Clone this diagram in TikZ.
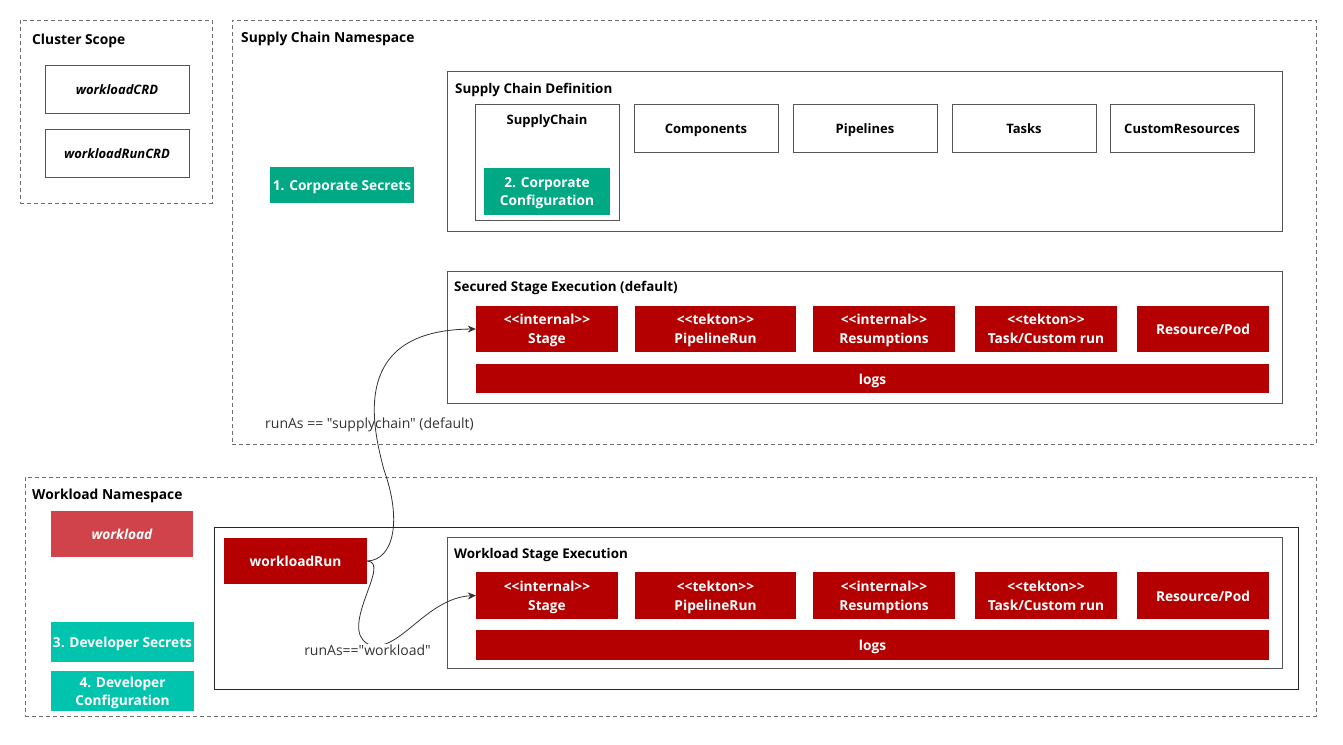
\documentclass[tikz,border=0pt]{standalone}
\usepackage{fontspec}
\setmainfont{Open Sans}[Ligatures=TeXOff]
\usetikzlibrary{positioning, arrows.meta, shadows}
\definecolor{stagered}{RGB}{180,0,0}
\definecolor{wlred}{RGB}{209,67,75}
\definecolor{corpgreen}{RGB}{0,168,132}
\definecolor{devteal}{RGB}{0,196,173}
\definecolor{framegrey}{RGB}{85,85,85}
\definecolor{dashgrey}{RGB}{110,110,110}
\definecolor{linegrey}{RGB}{51,51,51}
\newcommand{\boxfont}{\fontsize{13}{19}\selectfont\bfseries}
\newcommand{\redfont}{\fontsize{13.7}{19}\selectfont\bfseries}
\newcommand{\greenfont}{\fontsize{13.7}{18}\selectfont\bfseries}
\tikzset{
    oneline/.style={text height=14pt, text depth=2.4pt},
    twoline/.style={text height=33.3pt, text depth=3.5pt},
    nsbox/.style={rectangle, draw=dashgrey, dash pattern=on 4pt off 3pt, line width=0.8pt, inner sep=0pt},
    grpbox/.style={rectangle, draw=framegrey, fill=white, line width=0.9pt, inner sep=0pt, drop shadow={shadow xshift=1pt, shadow yshift=-1.2pt, opacity=0.35}},
    nstitle/.style={anchor=west, inner sep=0pt, font=\fontsize{13.8}{19}\selectfont\bfseries},
    grptitle/.style={anchor=west, inner sep=0pt, font=\fontsize{13.4}{19}\selectfont\bfseries},
    whitebox/.style={rectangle, draw=framegrey, fill=white, line width=0.9pt, minimum width=144pt, minimum height=48pt, align=center, font=\boxfont, oneline, drop shadow={shadow xshift=1pt, shadow yshift=-1.2pt, opacity=0.35}},
    redbox/.style={rectangle, fill=stagered, text=white, minimum height=46pt, align=center, font=\redfont, oneline, inner sep=1pt},
    corpbox/.style={rectangle, fill=corpgreen, text=white, align=center, font=\greenfont, oneline, inner sep=1pt},
    devbox/.style={rectangle, fill=devteal, text=white, minimum width=143pt, minimum height=40pt, align=center, font=\greenfont, oneline, inner sep=1pt},
    conn/.style={-{Stealth[length=8pt, width=7pt]}, draw=linegrey, line width=0.8pt},
    runlbl/.style={font=\fontsize{14}{16}\selectfont, text=linegrey, inner sep=1pt}
}

\begin{document}
\begin{tikzpicture}[x=1pt, y=-1pt]
    \useasboundingbox (0,0) rectangle (1343,744);
    % namespaces
    \node[nsbox, minimum width=192pt, minimum height=183pt] (cluster) at (116,111.5) {};
    \node[nstitle] (clusterlbl) at (32,41) {Cluster Scope};
    \node[nsbox, minimum width=1084pt, minimum height=424pt] (scns) at (774,232) {};
    \node[nstitle] (scnslbl) at (241,39) {Supply Chain Namespace};
    \node[nsbox, minimum width=1291pt, minimum height=239pt] (wlns) at (670.5,596.5) {};
    \node[nstitle] (wlnslbl) at (32,496) {Workload Namespace};

    % cluster scope
    \node[whitebox, font=\boxfont\itshape] (wlcrd) at (117,89) {workloadCRD};
    \node[whitebox, font=\boxfont\itshape] (wrcrd) at (117,153) {workloadRunCRD};

    % supply chain namespace
    \node[corpbox, minimum width=144pt, minimum height=36pt] (corpsec) at (342,185) {1. Corporate Secrets};
    \node[grpbox, minimum width=835pt, minimum height=160pt] (scdef) at (864.5,151) {};
    \node[grptitle] (scdeflbl) at (455,90) {Supply Chain Definition};
    \node[grpbox, minimum width=144pt, minimum height=116pt] (scbox) at (547,162) {};
    \node[font=\boxfont, inner sep=0pt] (sclbl) at (547,121) {SupplyChain};
    \node[corpbox, twoline, text height=31.8pt, minimum width=126pt, minimum height=47pt] (corpconf) at (547,191.5) {2. Corporate\\Configuration};
    \node[whitebox] (comp) at (706,128) {Components};
    \node[whitebox] (pipe) at (865,128) {Pipelines};
    \node[whitebox] (tasks) at (1024,128) {Tasks};
    \node[whitebox] (cres) at (1182,128) {CustomResources};

    \node[grpbox, minimum width=835pt, minimum height=132pt] (secured) at (864.5,337) {};
    \node[grptitle] (securedlbl) at (454,288) {Secured Stage Execution (default)};
    \node[redbox, twoline, minimum width=142pt] (sstage) at (547,329) {<{}<internal>{}>\\Stage};
    \node[redbox, twoline, minimum width=161pt] (spipe) at (715.5,329) {<{}<tekton>{}>\\PipelineRun};
    \node[redbox, twoline, minimum width=142pt] (sresum) at (884,329) {<{}<internal>{}>\\Resumptions};
    \node[redbox, twoline, minimum width=142pt] (stask) at (1046,329) {<{}<tekton>{}>\\Task/Custom run};
    \node[redbox, minimum width=132pt] (spod) at (1203,329) {Resource/Pod};
    \node[redbox, minimum width=793pt, minimum height=29pt] (slogs) at (872.5,378.5) {logs};

    % workload namespace
    \node[redbox, fill=wlred, minimum width=142pt, font=\redfont\itshape] (wl) at (122,534) {workload};
    \node[devbox] (devsec) at (122.5,642) {3. Developer Secrets};
    \node[devbox, twoline, text height=31.8pt] (devconf) at (122.5,691) {4. Developer\\Configuration};
    \node[grpbox, draw=black!85, minimum width=1084pt, minimum height=162pt] (wrframe) at (756,608) {};
    \node[redbox, minimum width=143pt] (wrun) at (295.5,561) {workloadRun};

    \node[grpbox, minimum width=835pt, minimum height=131pt] (wlexec) at (864.5,602.5) {};
    \node[grptitle] (wlexeclbl) at (454,555) {Workload Stage Execution};
    \node[redbox, twoline, minimum width=142pt, minimum height=47pt] (wstage) at (547,595.5) {<{}<internal>{}>\\Stage};
    \node[redbox, twoline, minimum width=161pt, minimum height=47pt] (wpipe) at (715.5,595.5) {<{}<tekton>{}>\\PipelineRun};
    \node[redbox, twoline, minimum width=142pt, minimum height=47pt] (wresum) at (884,595.5) {<{}<internal>{}>\\Resumptions};
    \node[redbox, twoline, minimum width=142pt, minimum height=47pt] (wtask) at (1046,595.5) {<{}<tekton>{}>\\Task/Custom run};
    \node[redbox, minimum width=132pt, minimum height=47pt] (wpod) at (1203,595.5) {Resource/Pod};
    \node[redbox, minimum width=793pt, minimum height=30pt] (wlogs) at (872.5,645) {logs};

    % runAs connectors
    \draw[conn] (wrun.east) .. controls (394,560) and (402,520) .. (384,470)
        .. controls (372,425) and (350,330) .. (sstage.west);
    \node[runlbl] (runsc) at (369.5,425) {runAs == "supplychain" (default)};
    \draw[conn] (wrun.east) .. controls (392,562) and (338,628) .. (368,644)
        .. controls (398,656) and (425,598) .. (wstage.west);
    \node[runlbl, fill=white] (runwl) at (367.5,650) {runAs=="workload"};
\end{tikzpicture}
\end{document}
